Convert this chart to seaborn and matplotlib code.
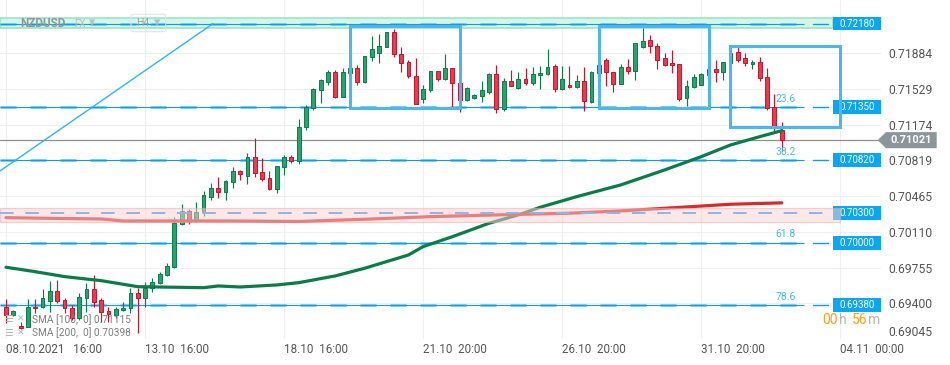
import matplotlib
matplotlib.use("Agg")
import matplotlib.pyplot as plt
import matplotlib.transforms as mtransforms
from matplotlib.patches import Rectangle, Polygon, FancyBboxPatch
import seaborn as sns
import pandas as pd
import numpy as np

# ---------------- data ----------------
opens = [0.69367, 0.69284, 0.69175, 0.69168, 0.69367, 0.69367, 0.69423, 0.69523, 0.69430, 0.69357,
         0.69257, 0.69456, 0.69539, 0.69430, 0.69327, 0.69284, 0.69334, 0.69351, 0.69506, 0.69450,
         0.69555, 0.69599, 0.69682, 0.69764, 0.70185, 0.70318, 0.70221, 0.70305, 0.70460, 0.70543,
         0.70509, 0.70609, 0.70715, 0.70668, 0.70851, 0.70702, 0.70642, 0.70533, 0.70758, 0.70851,
         0.70817, 0.71149, 0.71338, 0.71520, 0.71602, 0.71696, 0.71453, 0.71686, 0.71735, 0.71596,
         0.71845, 0.71890, 0.71944, 0.72093, 0.71874, 0.71795, 0.71662, 0.71427, 0.71520, 0.71706,
         0.71626, 0.71741, 0.71592, 0.71420, 0.71437, 0.71463, 0.71503, 0.71676, 0.71328, 0.71606,
         0.71543, 0.71626, 0.71586, 0.71666, 0.71676, 0.71755, 0.71527, 0.71567, 0.71547, 0.71606,
         0.71398, 0.71686, 0.71815, 0.71696, 0.71576, 0.71745, 0.71712, 0.71950, 0.72014, 0.71960,
         0.71835, 0.71785, 0.71775, 0.71437, 0.71547, 0.71570, 0.71669, 0.71728, 0.71702, 0.71785,
         0.71894, 0.71835, 0.71775, 0.71795, 0.71646, 0.71348, 0.71122]
highs = [0.69440, 0.69334, 0.69218, 0.69440, 0.69440, 0.69543, 0.69625, 0.69632, 0.69450, 0.69384,
         0.69506, 0.69599, 0.69682, 0.69450, 0.69367, 0.69367, 0.69416, 0.69555, 0.69555, 0.69615,
         0.69649, 0.69714, 0.69798, 0.70255, 0.70387, 0.70334, 0.70410, 0.70516, 0.70593, 0.70652,
         0.70626, 0.70758, 0.70725, 0.70891, 0.71040, 0.70841, 0.70715, 0.70762, 0.70874, 0.70874,
         0.71232, 0.71371, 0.71540, 0.71629, 0.71719, 0.71719, 0.71735, 0.71758, 0.71768, 0.71858,
         0.72056, 0.72076, 0.72093, 0.72126, 0.71944, 0.71818, 0.71835, 0.71570, 0.71706, 0.71706,
         0.71878, 0.71741, 0.71592, 0.71553, 0.71483, 0.71609, 0.71686, 0.71768, 0.71636, 0.71719,
         0.71699, 0.71735, 0.71745, 0.71758, 0.71927, 0.71775, 0.71758, 0.71758, 0.71666, 0.71745,
         0.71709, 0.71788, 0.71838, 0.71696, 0.71775, 0.71825, 0.71984, 0.72133, 0.72066, 0.71984,
         0.71890, 0.71917, 0.71775, 0.71619, 0.71679, 0.71686, 0.71748, 0.71818, 0.71801, 0.71897,
         0.71950, 0.71884, 0.71818, 0.71851, 0.71735, 0.71477, 0.71205]
lows = [0.69202, 0.69274, 0.69142, 0.69162, 0.69301, 0.69351, 0.69317, 0.69400, 0.69301, 0.69234,
        0.69234, 0.69317, 0.69367, 0.69218, 0.69218, 0.69251, 0.69327, 0.69307, 0.69102, 0.69367,
        0.69516, 0.69589, 0.69672, 0.69751, 0.70175, 0.70188, 0.70211, 0.70268, 0.70427, 0.70450,
        0.70427, 0.70549, 0.70626, 0.70586, 0.70658, 0.70616, 0.70526, 0.70493, 0.70675, 0.70792,
        0.70785, 0.71122, 0.71321, 0.71394, 0.71567, 0.71443, 0.71449, 0.71669, 0.71570, 0.71586,
        0.71811, 0.71791, 0.71944, 0.71851, 0.71702, 0.71636, 0.71376, 0.71394, 0.71503, 0.71612,
        0.71619, 0.71348, 0.71304, 0.71413, 0.71430, 0.71404, 0.71477, 0.71294, 0.71314, 0.71557,
        0.71533, 0.71570, 0.71570, 0.71527, 0.71669, 0.71497, 0.71520, 0.71540, 0.71537, 0.71314,
        0.71394, 0.71669, 0.71563, 0.71503, 0.71576, 0.71679, 0.71619, 0.71934, 0.71884, 0.71725,
        0.71758, 0.71686, 0.71411, 0.71361, 0.71537, 0.71570, 0.71659, 0.71602, 0.71619, 0.71775,
        0.71801, 0.71758, 0.71728, 0.71609, 0.71321, 0.71093, 0.70917]
closes = [0.69284, 0.69324, 0.69152, 0.69367, 0.69354, 0.69456, 0.69523, 0.69423, 0.69351, 0.69251,
          0.69460, 0.69539, 0.69410, 0.69317, 0.69291, 0.69344, 0.69357, 0.69506, 0.69450, 0.69555,
          0.69609, 0.69689, 0.69771, 0.70195, 0.70318, 0.70221, 0.70305, 0.70473, 0.70543, 0.70509,
          0.70616, 0.70715, 0.70682, 0.70851, 0.70692, 0.70632, 0.70533, 0.70762, 0.70851, 0.70817,
          0.71149, 0.71346, 0.71527, 0.71616, 0.71696, 0.71447, 0.71696, 0.71735, 0.71596, 0.71858,
          0.71927, 0.71957, 0.72093, 0.71874, 0.71785, 0.71659, 0.71381, 0.71527, 0.71706, 0.71626,
          0.71741, 0.71586, 0.71420, 0.71543, 0.71473, 0.71517, 0.71676, 0.71328, 0.71606, 0.71563,
          0.71626, 0.71586, 0.71676, 0.71686, 0.71745, 0.71527, 0.71626, 0.71547, 0.71606, 0.71408,
          0.71699, 0.71765, 0.71696, 0.71576, 0.71745, 0.71712, 0.71984, 0.72007, 0.71960, 0.71818,
          0.71768, 0.71765, 0.71427, 0.71560, 0.71646, 0.71679, 0.71728, 0.71702, 0.71795, 0.71884,
          0.71818, 0.71785, 0.71795, 0.71636, 0.71338, 0.71155, 0.71021]

sma100_x = [0, 4, 8, 13, 18, 27, 29, 32, 37, 40, 45, 49, 55, 57, 61, 66, 70, 73, 78, 84, 90, 95, 99, 103, 106]
sma100_y = [0.69758, 0.69714, 0.69665, 0.69625, 0.69565, 0.69555, 0.69572, 0.69562, 0.69582, 0.69605,
            0.69672, 0.69748, 0.69880, 0.69963, 0.70062, 0.70195, 0.70278, 0.70354, 0.70460, 0.70576,
            0.70725, 0.70857, 0.70973, 0.71056, 0.71115]
sma200_x = [0, 7, 13, 16, 31, 40, 49, 58, 67, 77, 84, 90, 99, 106]
sma200_y = [0.70251, 0.70243, 0.70238, 0.70218, 0.70218, 0.70213, 0.70235, 0.70261, 0.70278, 0.70295,
            0.70318, 0.70344, 0.70384, 0.70398]

tick_pos = [0, 19, 38, 57, 76, 95, 114]
tick_labels = ["08.10.2021   16:00", "13.10  16:00", "18.10  16:00", "21.10  20:00",
               "26.10  20:00", "31.10  20:00", "04.11  00:00"]
y_ticks = [0.71884, 0.71529, 0.71174, 0.70819, 0.70465, 0.70110, 0.69755, 0.69400, 0.69045]

levels = [0.72180, 0.71350, 0.70820, 0.70000, 0.69380]
zone_level = 0.70300
zone_band = (0.70211, 0.70344)
top_band = (0.72133, 0.72232)
fib_names = ["23.6", "38.2", "61.8", "78.6"]
fib_levels = [0.71350, 0.70820, 0.70000, 0.69380]
last_price = 0.71021
sma_legend = ["SMA [100,  0] 0.71115", "SMA [200,  0] 0.70398"]
# rectangles: (x_start, x_end, price_low, price_high)
boxes = [(47.0, 62.1, 0.71338, 0.72156), (81.1, 96.1, 0.71338, 0.72156), (99.0, 114.0, 0.71155, 0.71960)]
trend_x = [-0.82, 28.3]
trend_y = [0.70715, 0.72180]

# ---------------- style ----------------
sns.set_theme(style="white")
plt.rcParams['font.family'] = ['Roboto', 'DejaVu Sans']

W, H = 950, 365
fig = plt.figure(figsize=(W / 100, H / 100), dpi=100)
ax = fig.add_axes([0, 26 / H, 881 / W, 339 / H])
XL, XR = -0.82, 119.57
ax.set_xlim(XL, XR)
ax.set_ylim(0.69045, 0.72414)
for s in ax.spines.values():
    s.set_visible(False)

ax.set_axisbelow(True)
ax.grid(True, color="#efefef", lw=0.8)

# y axis on right
ax.yaxis.tick_right()
ax.set_yticks(y_ticks)
ax.set_yticklabels([f"{v:.5f}" for v in y_ticks])
ax.tick_params(axis="y", length=0, pad=5, labelsize=8.7, labelcolor="#555555")
ylabs = ax.get_yticklabels()
ylabs[-1].set_va("bottom")

ax.set_xticks(tick_pos)
ax.set_xticklabels(tick_labels)
ax.tick_params(axis="x", length=0, pad=3, labelsize=8.4, labelcolor="#555555")
for lab in ax.get_xticklabels():
    lab.set_ha("left")

# ---------------- bands & levels ----------------
blend = mtransforms.blended_transform_factory(ax.transAxes, ax.transData)

ax.add_patch(Rectangle((XL, top_band[0]), 113 - XL, top_band[1] - top_band[0],
                       facecolor="#d4f5e7", edgecolor="#93e3c4", lw=1.1, zorder=1.5))

dash_style = (0, (5.8, 5.0))
for lv in levels:
    ax.plot([XL, 109], [lv, lv], color="#0c9de6", lw=0.8, zorder=2.2, solid_capstyle="butt")
    ax.plot([XL, 109], [lv, lv], color="#6fcbf4", lw=2.0, ls=dash_style, zorder=2.1)
    ax.plot([110.3, 112.3], [lv, lv], color="#0c9de6", lw=1.0, zorder=2.2)

ax.axhline(last_price, color="#8f8f8f", lw=0.9, zorder=2.3)

# ---------------- candles ----------------
df = pd.DataFrame({"i": np.arange(len(opens)), "open": opens, "high": highs,
                   "low": lows, "close": closes})
df["bull"] = df["close"] >= df["open"]
fill = np.where(df["bull"], "#23a56c", "#f2364b")
edge = np.where(df["bull"], "#0d7a49", "#c4152c")
ax.vlines(df["i"], df["low"], df["high"], colors=edge, lw=0.85, zorder=3)
bottoms = np.minimum(df["open"], df["close"])
heights = np.maximum(np.abs(df["close"] - df["open"]), 0.00002)
ax.bar(df["i"], heights, bottom=bottoms, width=0.52, color=fill, edgecolor=edge,
       linewidth=0.7, zorder=4)

# ---------------- moving averages ----------------
sns.lineplot(x=sma100_x, y=sma100_y, ax=ax, color="#0a7c4b", lw=2.3, zorder=5, estimator=None)
sns.lineplot(x=sma200_x, y=sma200_y, ax=ax, color="#d82a2a", lw=2.3, zorder=5, estimator=None)

# pink zone on top
ax.add_patch(Rectangle((XL, zone_band[0]), 114 - XL, zone_band[1] - zone_band[0],
                       facecolor="#fbd3d3", alpha=0.5, edgecolor="#f4a3a3", lw=0.9, zorder=7))
ax.plot([XL, 112.3], [zone_level, zone_level], color="#8fb6df", lw=1.4, ls=(0, (7, 6)), zorder=7.5)

# trend line
ax.plot(trend_x, trend_y, color="#2cb5f3", lw=1.0, zorder=6)

# boxes
for x0, x1, y0, y1 in boxes:
    ax.add_patch(Rectangle((x0, y0), x1 - x0, y1 - y0, fill=False, edgecolor="#4db7ea",
                           lw=2.2, zorder=8))

# fib labels
for name, lv in zip(fib_names, fib_levels):
    ax.text(106.5, lv + 0.00085, name, color="#4fb3ea", fontsize=7.5, ha="center",
            va="center", zorder=9)

# price boxes on the right of plot
for lv in levels + [zone_level]:
    ax.add_patch(Rectangle((833 / 881, lv - 0.00069), 48 / 881, 0.00138, transform=blend,
                           facecolor="#0aa6ef", edgecolor="none", zorder=6.5, clip_on=False))
    ax.text(857 / 881, lv, f"{lv:.5f}", transform=blend, color="white", fontsize=7,
            ha="center", va="center", zorder=6.6)

# current price tag
p = last_price
tag = Polygon([(877.7 / 881, p), (886 / 881, p + 0.0008), (936.7 / 881, p + 0.0008),
               (936.7 / 881, p - 0.0008), (886 / 881, p - 0.0008)], closed=True,
              transform=blend, facecolor="#8c969a", edgecolor="none", clip_on=False, zorder=10)
ax.add_patch(tag)
ax.text(911 / 881, p, f"{p:.5f}", transform=blend, color="white", fontsize=8,
        fontweight="bold", ha="center", va="center", zorder=11, clip_on=False)

# ---------------- header & legend texts ----------------
def fx(px):
    return px / W

def fy(py):
    return 1 - py / H

fig.text(fx(20), fy(23.5), "NZDUSD", fontsize=8.5, fontweight="bold", color="#8e999c",
         va="center", ha="left", zorder=12)
fig.text(fx(74), fy(24), "FX", fontsize=7, color="#b8c0c2", va="center", ha="left", zorder=12)
fig.text(fx(89), fy(23), "▾", fontsize=9, color="#b8c0c2", va="center", ha="left",
         family="DejaVu Sans", zorder=12)
fig.patches.append(FancyBboxPatch((fx(131), fy(31.7)), 34.7 / W, 17.4 / H,
                                  boxstyle="round,pad=0,rounding_size=0.004",
                                  transform=fig.transFigure, facecolor="none",
                                  edgecolor="#e0e5e7", lw=0.8, figure=fig, zorder=12))
fig.text(fx(136), fy(23.5), "H4", fontsize=7.5, color="#9aa4a7", va="center", ha="left", zorder=12)
fig.text(fx(154), fy(23), "▾", fontsize=9, color="#b8c0c2", va="center", ha="left",
         family="DejaVu Sans", zorder=12)

for k, txt in enumerate(sma_legend):
    yy = 319.5 + 13.3 * k
    fig.text(fx(4), fy(yy), "☰", fontsize=7, color="#b5b5b5", va="center", ha="left",
             family="DejaVu Sans", zorder=12)
    fig.text(fx(17), fy(yy), "✕", fontsize=6.5, color="#b5b5b5", va="center", ha="left",
             family="DejaVu Sans", zorder=12)
    fig.text(fx(31.5), fy(yy), txt, fontsize=7.3, color="#7d7d7d", va="center", ha="left",
             zorder=12)

# countdown
for px, s, c in [(822.5, "00", "#ff9d1c"), (839, "h", "#b5b5b5"), (852, "56", "#ff9d1c"),
                 (868.3, "m", "#b5b5b5")]:
    fig.text(fx(px), fy(320.5), s, fontsize=10, color=c, va="center", ha="left", zorder=12)

fig.savefig("out.png", dpi=100)
